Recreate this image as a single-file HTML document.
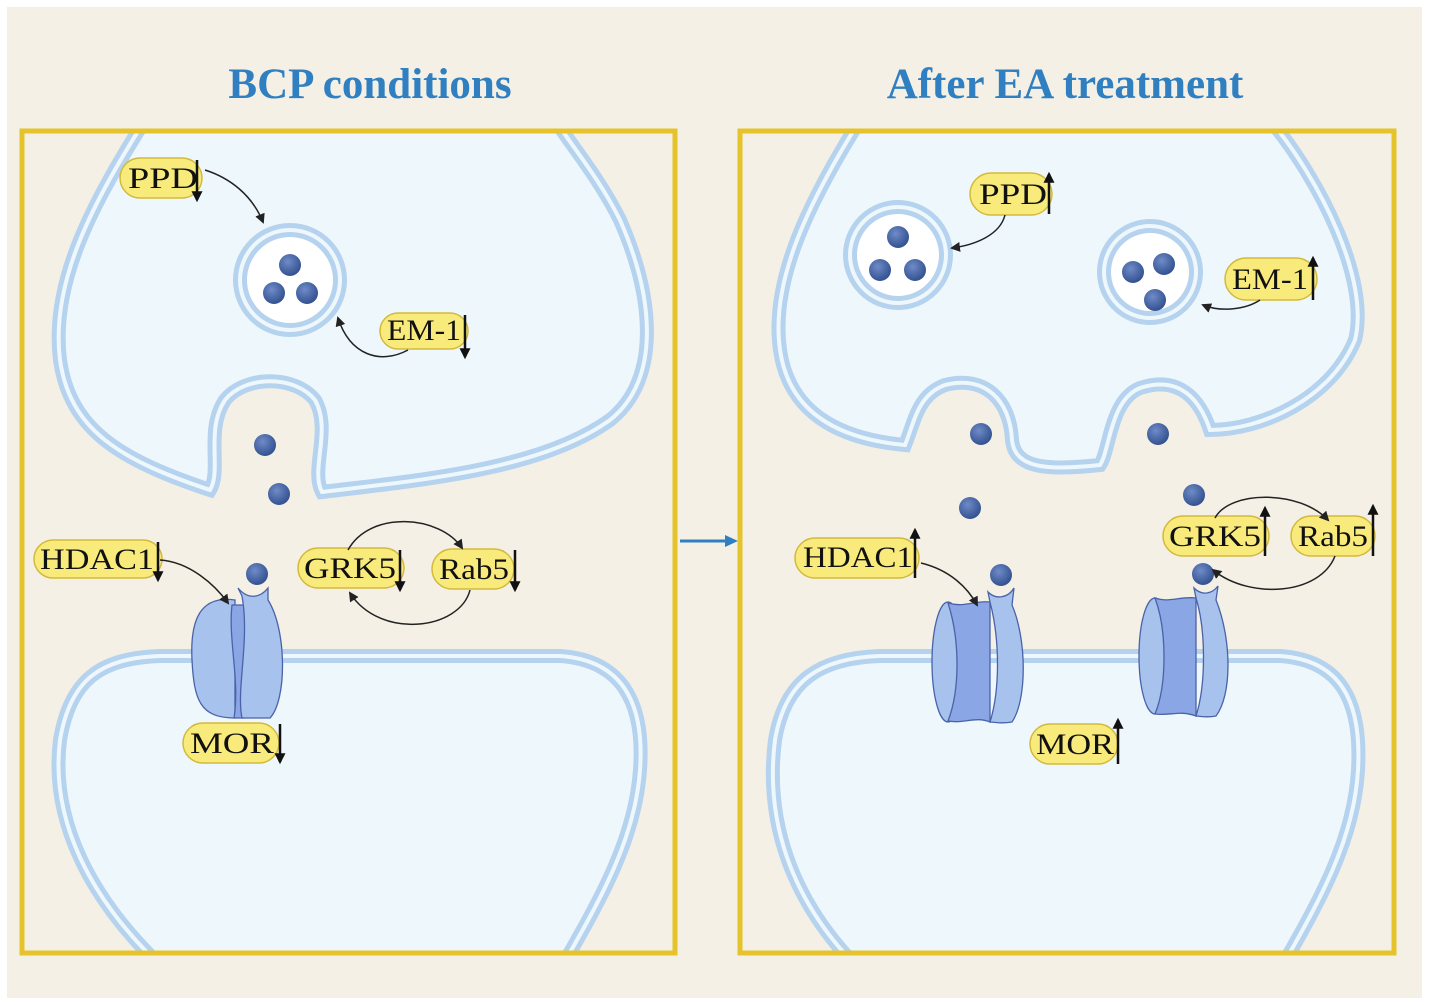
<!DOCTYPE html>
<html><head><meta charset="utf-8"><style>
html,body{margin:0;padding:0;background:#fff}
svg{display:block}
text{font-family:"Liberation Serif",serif}
</style></head><body>
<svg width="1429" height="1005" viewBox="0 0 1429 1005" xmlns="http://www.w3.org/2000/svg">
<defs>
<clipPath id="cl"><rect x="24" y="133" width="649" height="818"/></clipPath>
<clipPath id="cr"><rect x="742" y="133" width="650" height="818"/></clipPath>
<marker id="ah" viewBox="0 0 10 10" refX="8" refY="5" markerWidth="10" markerHeight="10" markerUnits="userSpaceOnUse" orient="auto-start-reverse"><path d="M0,0 L10,5 L0,10 z" fill="#222"/></marker>
<marker id="av" viewBox="0 0 10 10" refX="8" refY="5" markerWidth="13" markerHeight="11" markerUnits="userSpaceOnUse" orient="auto-start-reverse"><path d="M0,0 L10,5 L0,10 z" fill="#111"/></marker>
<radialGradient id="dg" cx="0.4" cy="0.35" r="0.7"><stop offset="0" stop-color="#6f8cc8"/><stop offset="1" stop-color="#2f4c8c"/></radialGradient>
</defs>
<rect x="7" y="7" width="1415" height="991" fill="#f4f0e5"/>
<text x="370" y="98" text-anchor="middle" font-size="43" font-weight="bold" fill="#2f7fc1">BCP conditions</text>
<text x="1065" y="98" text-anchor="middle" font-size="43" font-weight="bold" fill="#2f7fc1">After EA treatment</text>

<!-- LEFT PANEL -->
<g clip-path="url(#cl)">
<path d="M145,120 C95,200 50,280 60,360 C70,430 120,460 210,490 C222,470 205,430 225,400 C245,375 295,375 315,400 C332,430 310,470 322,492 C420,480 540,470 610,420 C660,380 655,300 620,220 C600,180 575,150 555,120 Z" fill="#eef8fc" stroke="#b5d2ee" stroke-width="14"/>
<path d="M145,120 C95,200 50,280 60,360 C70,430 120,460 210,490 C222,470 205,430 225,400 C245,375 295,375 315,400 C332,430 310,470 322,492 C420,480 540,470 610,420 C660,380 655,300 620,220 C600,180 575,150 555,120" fill="none" stroke="#eef8fc" stroke-width="4"/>
<path d="M165,970 C90,900 50,820 60,740 C70,680 100,658 160,656 L560,656 C620,660 645,700 640,770 C635,840 600,900 560,970 Z" fill="#eef8fc" stroke="#b5d2ee" stroke-width="14"/>
<path d="M165,970 C90,900 50,820 60,740 C70,680 100,658 160,656 L560,656 C620,660 645,700 640,770 C635,840 600,900 560,970" fill="none" stroke="#eef8fc" stroke-width="4"/>
</g>
<circle cx="290" cy="280" r="50" fill="#fff" stroke="#b5d2ee" stroke-width="14"/>
<circle cx="290" cy="280" r="50" fill="none" stroke="#eef8fc" stroke-width="4"/>
<circle cx="290" cy="265" r="11" fill="url(#dg)"/><circle cx="274" cy="293" r="11" fill="url(#dg)"/><circle cx="307" cy="293" r="11" fill="url(#dg)"/>
<circle cx="265" cy="445" r="11" fill="url(#dg)"/><circle cx="279" cy="494" r="11" fill="url(#dg)"/><circle cx="257" cy="574" r="11" fill="url(#dg)"/>
<!-- left receptor -->
<g stroke="#4a62a8" stroke-width="1.3">
<path d="M235,600 C200,595 190,620 192,660 C194,700 200,718 235,718 Z" fill="#a8c2ee"/>
<path d="M232,605 L245,605 L244,718 L234,718 C240,680 228,640 232,605 Z" fill="#8aa6e4"/>
<path d="M242,596 L238,588 C248,600 260,598 268,588 L268,600 C287,630 287,700 270,718 L242,718 C236,690 250,640 242,596 Z" fill="#a8c2ee"/>
</g>
<!-- left labels -->
<g stroke="#d3b93c" stroke-width="1.5" fill="#f8eb7c">
<rect x="120" y="158" width="82" height="40" rx="20"/>
<rect x="380" y="313" width="88" height="36" rx="18"/>
<rect x="34" y="540" width="128" height="38" rx="19"/>
<rect x="298" y="548" width="106" height="40" rx="20"/>
<rect x="432" y="549" width="82" height="40" rx="20"/>
<rect x="183" y="723" width="96" height="40" rx="20"/>
</g>
<g font-size="30" fill="#111">
<text x="128" y="188" textLength="70" lengthAdjust="spacingAndGlyphs">PPD</text>
<text x="387" y="340" textLength="74" lengthAdjust="spacingAndGlyphs">EM-1</text>
<text x="40" y="569" textLength="114" lengthAdjust="spacingAndGlyphs">HDAC1</text>
<text x="304" y="578" textLength="92" lengthAdjust="spacingAndGlyphs">GRK5</text>
<text x="439" y="579" textLength="70" lengthAdjust="spacingAndGlyphs">Rab5</text>
<text x="190" y="753" textLength="84" lengthAdjust="spacingAndGlyphs">MOR</text>
</g>
<g stroke="#111" stroke-width="2.5">
<line x1="197" y1="160" x2="197" y2="200" marker-end="url(#av)"/>
<line x1="465" y1="315" x2="465" y2="357" marker-end="url(#av)"/>
<line x1="158" y1="542" x2="158" y2="580" marker-end="url(#av)"/>
<line x1="400" y1="550" x2="400" y2="590" marker-end="url(#av)"/>
<line x1="515" y1="550" x2="515" y2="590" marker-end="url(#av)"/>
<line x1="280" y1="724" x2="280" y2="762" marker-end="url(#av)"/>
</g>
<g stroke="#222" stroke-width="1.5" fill="none">
<path d="M205,170 C230,178 252,195 263,222" marker-end="url(#ah)"/>
<path d="M408,350 C380,365 350,355 338,318" marker-end="url(#ah)"/>
<path d="M160,560 C190,562 215,585 228,603" marker-end="url(#ah)"/>
<path d="M348,550 C370,510 440,515 462,548" marker-end="url(#ah)"/>
<path d="M470,590 C460,630 380,640 350,593" marker-end="url(#ah)"/>
</g>

<!-- arrow between -->
<line x1="680" y1="541" x2="728" y2="541" stroke="#2f7fc1" stroke-width="3"/>
<path d="M738,541 L725,535 L725,547 Z" fill="#2f7fc1"/>

<!-- RIGHT PANEL -->
<g clip-path="url(#cr)">
<path d="M860,120 C810,200 770,280 780,350 C790,420 850,440 905,445 C915,420 918,395 945,385 C985,375 1010,400 1012,440 C1015,470 1050,470 1100,465 C1110,450 1110,400 1140,388 C1180,375 1200,400 1210,430 C1260,430 1330,400 1355,340 C1370,280 1320,180 1270,120 Z" fill="#eef8fc" stroke="#b5d2ee" stroke-width="14"/>
<path d="M860,120 C810,200 770,280 780,350 C790,420 850,440 905,445 C915,420 918,395 945,385 C985,375 1010,400 1012,440 C1015,470 1050,470 1100,465 C1110,450 1110,400 1140,388 C1180,375 1200,400 1210,430 C1260,430 1330,400 1355,340 C1370,280 1320,180 1270,120" fill="none" stroke="#eef8fc" stroke-width="4"/>
<path d="M860,970 C790,900 765,820 775,740 C785,680 820,658 880,656 L1280,656 C1340,660 1362,700 1358,770 C1354,840 1320,900 1280,970 Z" fill="#eef8fc" stroke="#b5d2ee" stroke-width="14"/>
<path d="M860,970 C790,900 765,820 775,740 C785,680 820,658 880,656 L1280,656 C1340,660 1362,700 1358,770 C1354,840 1320,900 1280,970" fill="none" stroke="#eef8fc" stroke-width="4"/>
</g>
<circle cx="898" cy="255" r="48" fill="#fff" stroke="#b5d2ee" stroke-width="14"/>
<circle cx="898" cy="255" r="48" fill="none" stroke="#eef8fc" stroke-width="4"/>
<circle cx="1150" cy="272" r="46" fill="#fff" stroke="#b5d2ee" stroke-width="14"/>
<circle cx="1150" cy="272" r="46" fill="none" stroke="#eef8fc" stroke-width="4"/>
<circle cx="898" cy="237" r="11" fill="url(#dg)"/><circle cx="880" cy="270" r="11" fill="url(#dg)"/><circle cx="915" cy="270" r="11" fill="url(#dg)"/>
<circle cx="1133" cy="272" r="11" fill="url(#dg)"/><circle cx="1164" cy="264" r="11" fill="url(#dg)"/><circle cx="1155" cy="300" r="11" fill="url(#dg)"/>
<circle cx="981" cy="434" r="11" fill="url(#dg)"/><circle cx="1158" cy="434" r="11" fill="url(#dg)"/>
<circle cx="970" cy="508" r="11" fill="url(#dg)"/><circle cx="1194" cy="495" r="11" fill="url(#dg)"/>
<circle cx="1001" cy="575" r="11" fill="url(#dg)"/><circle cx="1203" cy="574" r="11" fill="url(#dg)"/>
<!-- right receptors -->
<g stroke="#4a62a8" stroke-width="1.3">
<g>
<ellipse cx="948" cy="662" rx="16" ry="60" fill="#a8c2ee"/>
<path d="M948,603 C965,608 975,600 990,602 L990,722 C975,716 965,724 948,721 C960,690 960,640 948,603 Z" fill="#8aa6e4"/>
<path d="M990,602 L988,592 C996,600 1008,598 1014,588 L1012,605 C1027,640 1027,700 1012,722 C1000,724 995,722 990,722 C1000,690 1000,640 990,602 Z" fill="#a8c2ee"/>
</g>
<g>
<ellipse cx="1155" cy="656" rx="16" ry="58" fill="#a8c2ee"/>
<path d="M1155,598 C1170,603 1180,596 1196,598 L1196,716 C1180,710 1170,716 1155,714 C1167,685 1167,630 1155,598 Z" fill="#8aa6e4"/>
<path d="M1196,598 L1194,588 C1202,596 1212,594 1218,586 L1216,600 C1232,640 1232,695 1216,716 C1206,718 1200,716 1196,716 C1206,685 1206,630 1196,598 Z" fill="#a8c2ee"/>
</g>
</g>
<!-- right labels -->
<g stroke="#d3b93c" stroke-width="1.5" fill="#f8eb7c">
<rect x="970" y="173" width="82" height="42" rx="21"/>
<rect x="1225" y="258" width="92" height="42" rx="21"/>
<rect x="795" y="538" width="124" height="40" rx="20"/>
<rect x="1163" y="516" width="106" height="40" rx="20"/>
<rect x="1291" y="516" width="84" height="40" rx="20"/>
<rect x="1030" y="724" width="88" height="40" rx="20"/>
</g>
<g font-size="30" fill="#111">
<text x="979" y="204" textLength="68" lengthAdjust="spacingAndGlyphs">PPD</text>
<text x="1232" y="289" textLength="76" lengthAdjust="spacingAndGlyphs">EM-1</text>
<text x="803" y="567" textLength="110" lengthAdjust="spacingAndGlyphs">HDAC1</text>
<text x="1169" y="546" textLength="92" lengthAdjust="spacingAndGlyphs">GRK5</text>
<text x="1298" y="546" textLength="70" lengthAdjust="spacingAndGlyphs">Rab5</text>
<text x="1036" y="754" textLength="78" lengthAdjust="spacingAndGlyphs">MOR</text>
</g>
<g stroke="#111" stroke-width="2.5">
<line x1="1049" y1="214" x2="1049" y2="174" marker-end="url(#av)"/>
<line x1="1313" y1="300" x2="1313" y2="258" marker-end="url(#av)"/>
<line x1="915" y1="578" x2="915" y2="530" marker-end="url(#av)"/>
<line x1="1265" y1="556" x2="1265" y2="508" marker-end="url(#av)"/>
<line x1="1373" y1="556" x2="1373" y2="506" marker-end="url(#av)"/>
<line x1="1118" y1="764" x2="1118" y2="720" marker-end="url(#av)"/>
</g>
<g stroke="#222" stroke-width="1.5" fill="none">
<path d="M1005,215 C1000,235 975,245 952,248" marker-end="url(#ah)"/>
<path d="M1260,300 C1245,310 1220,312 1203,305" marker-end="url(#ah)"/>
<path d="M921,563 C950,570 968,588 977,605" marker-end="url(#ah)"/>
<path d="M1215,518 C1230,490 1300,490 1328,520" marker-end="url(#ah)"/>
<path d="M1335,556 C1320,595 1250,600 1213,570" marker-end="url(#ah)"/>
</g>

<rect x="22" y="131" width="653" height="822" fill="none" stroke="#e6c32a" stroke-width="5"/>
<rect x="740" y="131" width="654" height="822" fill="none" stroke="#e6c32a" stroke-width="5"/>
</svg>
</body></html>
